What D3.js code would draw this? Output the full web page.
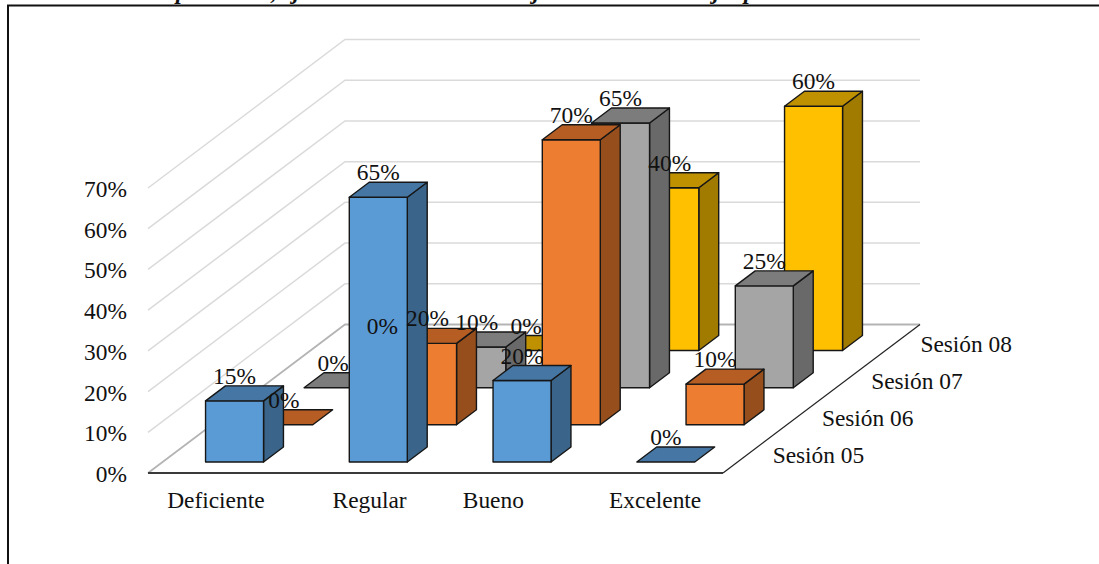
<!DOCTYPE html>
<html lang="es">
<head>
<meta charset="utf-8">
<title>Sesiones</title>
<script src="https://cdn.jsdelivr.net/npm/d3@7/dist/d3.min.js"></script>
<style>
  html, body { margin: 0; padding: 0; background: #fff; overflow: hidden; }
  svg { display: block; }
  text { font-family: "Liberation Serif", "Times New Roman", serif; fill: #111; }
</style>
</head>
<body>
<svg id="chart" width="1099" height="564"></svg>
<script>
const categories = ["Deficiente", "Regular", "Bueno", "Excelente"];
const sessions = ["Sesión 05", "Sesión 06", "Sesión 07", "Sesión 08"];
const sesion05 = [15, 65, 20, 0];
const sesion06 = [0, 20, 70, 10];
const sesion07 = [0, 10, 65, 25];
const sesion08 = [0, 0, 40, 60];
const valueTicks = [0, 10, 20, 30, 40, 50, 60, 70];
const seriesValues = [sesion05, sesion06, sesion07, sesion08];

// Heading letters that reach below the top edge of the page, the rest lies above it
const headingGlyphs = ["p", ",", "j", "j", "j", "p"];
const headingGlyphX = [176, 271, 293, 533, 713, 744];

// Colours per series: front, top and side faces of each box
const faces = [
  { front: "#5b9bd5", top: "#4676a3", side: "#3a6489" },
  { front: "#ed7d31", top: "#b55d23", side: "#964e1c" },
  { front: "#a5a5a5", top: "#7c7c7c", side: "#696969" },
  { front: "#ffc000", top: "#bf9000", side: "#a17a00" }
];

const fontSize = 23.4;
const svg = d3.select("#chart");

// Oblique projection of the floor: x runs along the front edge, depth recedes up and to the right
const x = d3.scaleLinear().domain([0, categories.length]).range([148, 723]);
const depthX = d3.scaleLinear().domain([0, sessions.length]).range([0, 197]);
const depthY = d3.scaleLinear().domain([0, sessions.length]).range([0, -148.5]);
const y = d3.scaleLinear().domain([0, 70]).range([473, 188]);

const project = (cx, depth, value) => [
  x(cx) + depthX(depth),
  y(value) + depthY(depth)
];
const polygon = pts => "M" + pts.map(p => p.join(",")).join("L") + "Z";

// Clipped heading
svg.append("g")
  .attr("font-size", fontSize)
  .attr("font-style", "italic")
  .attr("font-weight", "bold")
  .selectAll("text")
  .data(headingGlyphs)
  .join("text")
  .attr("x", (d, i) => headingGlyphX[i])
  .attr("y", -1)
  .text(d => d);

// Outer frame, open on the right and at the bottom
svg.append("path")
  .attr("d", "M8,564V5.5H1099")
  .attr("fill", "none")
  .attr("stroke", "#111")
  .attr("stroke-width", 2);

// Walls: one line on the side wall and one on the back wall for each tick
const grid = svg.append("g").attr("fill", "none");
valueTicks.forEach(v => {
  const isFloor = v === 0;
  grid.append("path")
    .attr("d", d3.line()([
      project(0, 0, v),
      project(0, sessions.length, v),
      project(categories.length, sessions.length, v)
    ]))
    .attr("stroke", isFloor ? "#b4b4b4" : "#dadada")
    .attr("stroke-width", isFloor ? 1.8 : 1.5);
});

// Front and right edges of the floor
grid.append("path")
  .attr("d", d3.line()([
    project(0, 0, 0),
    project(categories.length, 0, 0)
  ]))
  .attr("stroke", "#3a3a3a")
  .attr("stroke-width", 2);
grid.append("path")
  .attr("d", d3.line()([
    project(categories.length, 0, 0),
    project(categories.length, sessions.length, 0)
  ]))
  .attr("stroke", "#222")
  .attr("stroke-width", 1.2);

// Each box fills 0.404 of its category slot and 0.405 of its depth slot
const barWidth = 58 / 143.75;
const barDepth = 15 / 37.125;
const barFrontInset = (1 - barDepth) / 2;
const barLeftInset = (1 - barWidth) / 2;

const bars = svg.append("g")
  .attr("stroke", "#161616")
  .attr("stroke-width", 1.4)
  .attr("stroke-linejoin", "round");
const labelSpots = [];

// Paint the rear series first so nearer boxes cover them
for (let s = sessions.length - 1; s >= 0; s--) {
  const values = seriesValues[s];
  const colour = faces[s];
  values.forEach((v, c) => {
    const x0 = c + barLeftInset, x1 = x0 + barWidth;
    const d0 = s + barFrontInset, d1 = d0 + barDepth;
    const g = bars.append("g");
    if (v > 0) {
      g.append("path").attr("fill", colour.side).attr("d", polygon([
        project(x1, d0, 0), project(x1, d1, 0), project(x1, d1, v), project(x1, d0, v)
      ]));
      g.append("path").attr("fill", colour.front).attr("d", polygon([
        project(x0, d0, 0), project(x1, d0, 0), project(x1, d0, v), project(x0, d0, v)
      ]));
    }
    g.append("path").attr("fill", colour.top).attr("d", polygon([
      project(x0, d0, v), project(x1, d0, v), project(x1, d1, v), project(x0, d1, v)
    ]));
    const anchor = project(x0, d1, v);
    labelSpots.push({ v, x: project(x0, d0, v)[0] + 29, y: anchor[1] - 2 });
  });
}

// Value labels sit above all boxes
svg.append("g")
  .attr("font-size", fontSize)
  .attr("text-anchor", "middle")
  .selectAll("text")
  .data(labelSpots)
  .join("text")
  .attr("x", d => d.x)
  .attr("y", d => d.y)
  .text(d => d.v + "%");

// Vertical value axis, labels only
const yAxis = svg.append("g")
  .attr("transform", "translate(127,1)")
  .call(d3.axisLeft(y).tickValues(valueTicks).tickFormat(d => d + "%").tickSize(0).tickPadding(0));
yAxis.select(".domain").remove();
yAxis.selectAll("text").attr("font-size", fontSize);

// Category labels, with the small shifts the axis applies to each one
const categoryNudge = [-4, 6, -14, 4];
svg.append("g")
  .attr("font-size", fontSize)
  .attr("text-anchor", "middle")
  .selectAll("text")
  .data(categories)
  .join("text")
  .attr("x", (d, i) => x(i + 0.5) + categoryNudge[i] + depthX(0))
  .attr("y", 508)
  .text(d => d);

// Series labels follow the right edge of the floor
svg.append("g")
  .attr("font-size", fontSize)
  .selectAll("text")
  .data(sessions)
  .join("text")
  .attr("x", (d, i) => project(categories.length, i + 0.5, 0)[0] + 25)
  .attr("y", (d, i) => project(categories.length, i + 0.5, 0)[1] + 9)
  .text(d => d);
</script>
</body>
</html>
